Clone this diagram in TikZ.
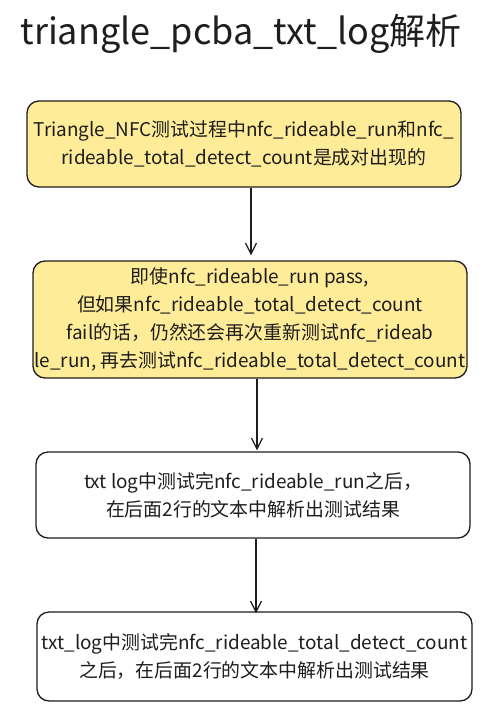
\documentclass[tikz,border=0pt]{standalone}
\usepackage{fontspec}
\setmainfont{Noto Sans CJK SC}
\usetikzlibrary{arrows.meta}
\definecolor{ink}{HTML}{1E1E1E}
\definecolor{yel}{HTML}{FFEC99}
\tikzset{
  box/.style={draw=ink, line width=1.3pt, rounded corners=12pt, rectangle,
    minimum width=434pt, inner sep=0pt, align=center, text=ink,
    font=\fontsize{18.9}{28}\selectfont},
  ybox/.style={box, fill=yel},
  wbox/.style={box, fill=white},
  arr/.style={draw=ink, line width=1.2pt, -{Straight Barb[length=11pt,width=11pt,line width=1.2pt]}}
}
\begin{document}
\begin{tikzpicture}[x=1pt,y=-1pt]
\useasboundingbox[fill=white] (0,0) rectangle (493,713);
\node[text=ink, font=\fontsize{36}{40}\selectfont] (title) at (241,34) {triangle\_pcba\_txt\_log解析};
\node[ybox, minimum height=86pt] (b1) at (244,144) {Triangle\_NFC测试过程中nfc\_rideable\_run和nfc\_\\rideable\_total\_detect\_count是成对出现的};
\node[ybox, minimum height=117pt] (b2) at (250,319.5) {即使nfc\_rideable\_run pass,\\但如果nfc\_rideable\_total\_detect\_count\\fail的话，仍然还会再次重新测试nfc\_rideab\\le\_run, 再去测试nfc\_rideable\_total\_detect\_count};
\node[wbox, minimum height=86pt] (b3) at (253,495) {txt log中测试完nfc\_rideable\_run之后，\\在后面2行的文本中解析出测试结果};
\node[wbox, minimum height=89pt, minimum width=435pt] (b4) at (254.5,656.5) {txt\_log中测试完nfc\_rideable\_total\_detect\_count\\之后，在后面2行的文本中解析出测试结果};
\draw[arr, shorten >=5pt] ([xshift=7pt]b1.south) -- ([xshift=1pt]b2.north);
\draw[arr, shorten >=1pt] ([xshift=7pt]b2.south) -- ([xshift=4pt]b3.north);
\draw[arr, shorten >=-2pt] ([xshift=3pt]b3.south) -- ([xshift=1.5pt]b4.north);
\end{tikzpicture}
\end{document}
